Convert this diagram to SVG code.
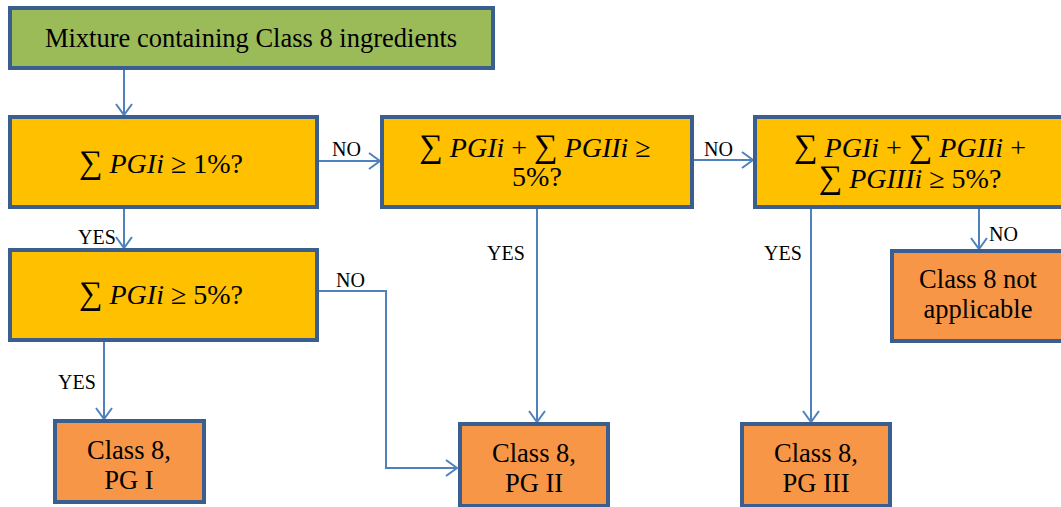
<svg xmlns="http://www.w3.org/2000/svg" width="1061" height="507" viewBox="0 0 1061 507">
<style>
.box{stroke:#3A5F8F;stroke-width:4}
.g{fill:#9BBB59}.y{fill:#FFC000}.o{fill:#F79646}
.t{font-family:'Liberation Serif',serif;fill:#000;text-anchor:middle;font-size:26.5px}
.m{font-family:'Liberation Serif',serif;fill:#000;text-anchor:middle;font-size:28px}
.i{font-style:italic}
.s{font-size:33px}
.lb{font-family:'Liberation Serif',serif;font-size:20px;fill:#000}
.c{fill:none;stroke:#4F81BD;stroke-width:2;marker-end:url(#a)}
</style>
<defs>
<marker id="a" markerUnits="userSpaceOnUse" markerWidth="22" markerHeight="22" refX="12" refY="9" orient="auto" viewBox="0 0 22 18">
<path d="M1,1 L12,9 L1,17" fill="none" stroke="#4F81BD" stroke-width="2"/>
</marker>
</defs>
<rect width="1061" height="507" fill="#fff"/>
<g id="connectors">
<path class="c" d="M124,70 V115"/>
<path class="c" d="M319,161 H380"/>
<path class="c" d="M694,160 H753"/>
<path class="c" d="M124,209 V248"/>
<path class="c" d="M104,342 V419"/>
<path class="c" d="M319,291 H386 V468 H457"/>
<path class="c" d="M537,209 V422"/>
<path class="c" d="M811,209 V422"/>
<path class="c" d="M979,209 V249"/>
<text class="lb" x="332" y="156" font-family="Liberation Serif, serif">NO</text>
<text class="lb" x="704" y="156" font-family="Liberation Serif, serif">NO</text>
<text class="lb" x="78" y="244" font-family="Liberation Serif, serif">YES</text>
<text class="lb" x="58" y="389" font-family="Liberation Serif, serif">YES</text>
<text class="lb" x="336" y="287" font-family="Liberation Serif, serif">NO</text>
<text class="lb" x="487" y="260" font-family="Liberation Serif, serif">YES</text>
<text class="lb" x="764" y="260" font-family="Liberation Serif, serif">YES</text>
<text class="lb" x="989" y="241" font-family="Liberation Serif, serif">NO</text>
</g>
<g id="start">
<rect class="box g" x="10" y="8" width="483" height="60"/>
<text class="t" x="251" y="47" font-family="Liberation Serif, serif">Mixture containing Class 8 ingredients</text>
</g>
<g id="q1">
<rect class="box y" x="10" y="117" width="307" height="90"/>
<text class="m" x="161" y="173" font-family="Liberation Serif, serif"><tspan class="s">∑</tspan> <tspan class="i">PGIi</tspan> ≥ 1%?</text>
</g>
<g id="q2">
<rect class="box y" x="10" y="250" width="307" height="90"/>
<text class="m" x="161" y="304" font-family="Liberation Serif, serif"><tspan class="s">∑</tspan> <tspan class="i">PGIi</tspan> ≥ 5%?</text>
</g>
<g id="q3">
<rect class="box y" x="382" y="117" width="310" height="90"/>
<text class="m" x="535" y="157" font-family="Liberation Serif, serif"><tspan class="s">∑</tspan> <tspan class="i">PGIi</tspan> + <tspan class="s">∑</tspan> <tspan class="i">PGIIi</tspan> ≥</text>
<text class="m" x="537" y="186" font-family="Liberation Serif, serif">5%?</text>
</g>
<g id="q4">
<rect class="box y" x="755" y="117" width="312" height="90"/>
<text class="m" x="910" y="157" font-family="Liberation Serif, serif"><tspan class="s">∑</tspan> <tspan class="i">PGIi</tspan> + <tspan class="s">∑</tspan> <tspan class="i">PGIIi</tspan> +</text>
<text class="m" x="910" y="188" font-family="Liberation Serif, serif"><tspan class="s">∑</tspan> <tspan class="i">PGIIIi</tspan> ≥ 5%?</text>
</g>
<g id="na">
<rect class="box o" x="892" y="251" width="175" height="90"/>
<text class="t" x="978" y="288" font-family="Liberation Serif, serif">Class 8 not</text>
<text class="t" x="978" y="318" font-family="Liberation Serif, serif">applicable</text>
</g>
<g id="pg1">
<rect class="box o" x="55" y="421" width="149" height="81"/>
<text class="t" x="129" y="459" font-family="Liberation Serif, serif">Class 8,</text>
<text class="t" x="129" y="489" font-family="Liberation Serif, serif">PG I</text>
</g>
<g id="pg2">
<rect class="box o" x="460" y="424" width="148" height="82"/>
<text class="t" x="534" y="462" font-family="Liberation Serif, serif">Class 8,</text>
<text class="t" x="534" y="492" font-family="Liberation Serif, serif">PG II</text>
</g>
<g id="pg3">
<rect class="box o" x="742" y="424" width="148" height="82"/>
<text class="t" x="816" y="462" font-family="Liberation Serif, serif">Class 8,</text>
<text class="t" x="816" y="492" font-family="Liberation Serif, serif">PG III</text>
</g>
</svg>
